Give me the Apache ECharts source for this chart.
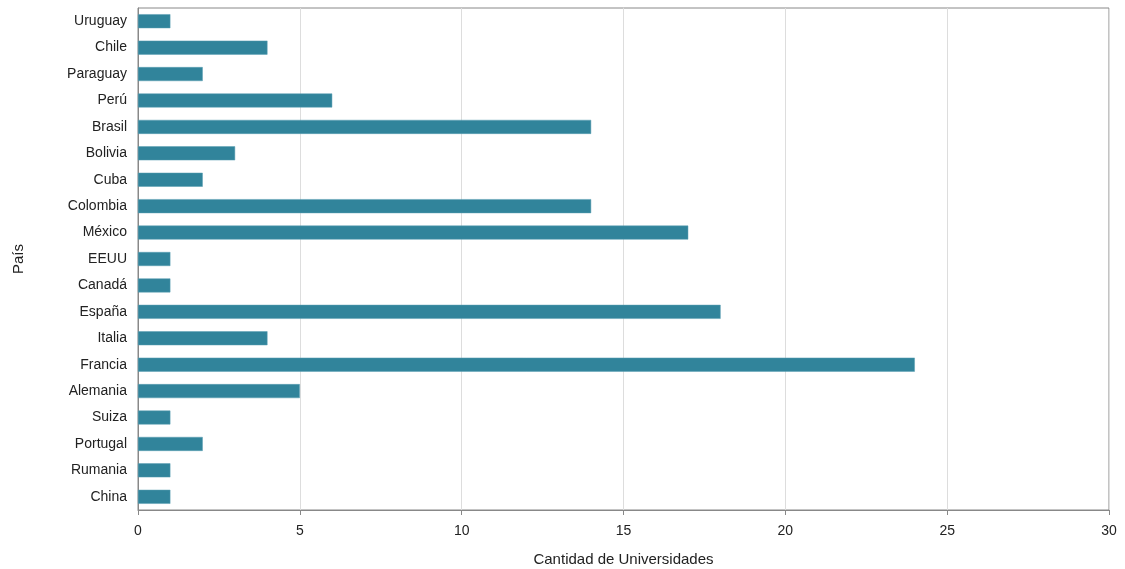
<!DOCTYPE html>
<html><head><meta charset="utf-8">
<script src="https://cdn.jsdelivr.net/npm/echarts@6/dist/echarts.min.js"></script>
<style>html,body{margin:0;padding:0;background:#fff}#c{width:1125px;height:569px}</style>
</head><body><div id="c"></div>
<script>
var categories = ["China","Rumania","Portugal","Suiza","Alemania","Francia","Italia","España","Canadá","EEUU","México","Colombia","Cuba","Bolivia","Brasil","Perú","Paraguay","Chile","Uruguay"];
var values = [1,1,2,1,5,24,4,18,1,1,17,14,2,3,14,6,2,4,1];
var xTicks = {min:0, max:30, interval:5};
var chart = echarts.init(document.getElementById('c'));
chart.setOption({
  animation:false,
  textStyle:{fontFamily:'Liberation Sans, Arial, sans-serif'},
  grid:{left:138,right:16,top:8,bottom:59,outerBoundsMode:'none',containLabel:false,show:true,borderColor:'#888',borderWidth:1,backgroundColor:'#fff'},
  xAxis:{type:'value',min:xTicks.min,max:xTicks.max,interval:xTicks.interval,
    name:'Cantidad de Universidades',nameLocation:'middle',nameGap:42,
    nameTextStyle:{color:'#222',fontSize:15},
    axisLine:{show:true,lineStyle:{color:'#888'}},
    axisTick:{show:true,length:5,lineStyle:{color:'#888'}},
    axisLabel:{color:'#222',fontSize:14,margin:14},
    splitLine:{show:true,lineStyle:{color:'#ddd'}}},
  yAxis:{type:'category',data:categories,
    name:'País',nameLocation:'middle',nameGap:112,nameRotate:90,
    nameTextStyle:{color:'#222',fontSize:15},
    axisLine:{show:true,lineStyle:{color:'#888'}},
    axisTick:{show:false},
    axisLabel:{color:'#222',fontSize:14,margin:11}},
  series:[{type:'bar',data:values,barWidth:14,
    itemStyle:{color:'#31849B',borderColor:'#5a9fb3',borderWidth:0.5}}]
});
</script></body></html>
